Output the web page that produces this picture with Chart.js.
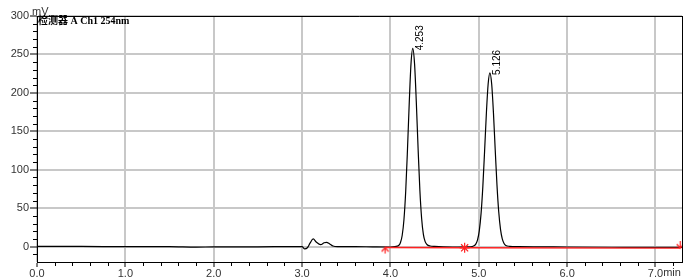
<!DOCTYPE html>
<html>
<head>
<meta charset="utf-8">
<script src="https://cdn.jsdelivr.net/npm/chart.js@4/dist/chart.umd.min.js"></script>
<style>
html,body{margin:0;padding:0;background:#fff;}
#wrap{width:683px;height:277px;position:relative;}
</style>
</head>
<body>
<div id="wrap"><canvas id="c" width="683" height="277"></canvas></div>
<script>
// ---- data ----
const times = [0.00,0.50,1.00,1.50,1.80,2.00,2.50,2.90,3.00,3.03,3.06,3.09,3.126,3.16,3.21,3.25,3.277,3.31,3.35,3.40,3.60,3.80,4.00,
  4.053,4.093,4.113,4.133,4.153,4.173,4.193,4.213,4.233,4.253,4.273,4.293,4.313,4.333,4.353,4.373,4.393,4.413,4.45,4.50,4.70,
  4.906,4.946,4.966,4.986,5.006,5.026,5.046,5.066,5.086,5.106,5.126,5.146,5.166,5.186,5.206,5.226,5.246,5.266,5.286,5.306,5.35,5.45,
  6.00,6.50,7.00,7.30];
const signal = [0.2,0.2,0.0,0.0,-0.7,-0.3,-0.2,0.0,0.0,-3.0,-1.5,4.5,10.0,6.0,2.6,5.0,5.6,3.8,0.8,0.0,0.0,-0.3,-0.5,
  0.1,1.5,5.1,14.5,35,72,126,187,238,258,238,188,128,74,37,16,6.5,2.8,0.8,0.2,-0.5,
  -0.3,1.1,3.3,8.8,20.9,43.2,78.4,124.8,173.6,211.5,226,211.5,174,126,80,45,22.5,10,4,1.5,0.4,0,
  -0.5,-0.8,-1.0,-1.0];
const baselineTimes = [3.94, 4.84, 7.28];
const baselineValues = [-1.2, -1.5, -2.0];
const peakTimes = [4.253, 5.126];
const peakHeights = [258, 226];
const peakLabels = ['4.253', '5.126'];
const xTicks = [0,1,2,3,4,5,6,7];
const yTicks = [0,50,100,150,200,250,300];
const title = '检测器 A Ch1 254nm';

// marker images for baseline start/end
function arrowCanvas(up){
  const c = document.createElement('canvas'); c.width = 9; c.height = 14;
  const g = c.getContext('2d'); g.strokeStyle = '#ff2020'; g.lineWidth = 1.2;
  g.beginPath();
  if (up){ g.moveTo(4.5,7); g.lineTo(4.5,13); g.moveTo(1,11); g.lineTo(4.5,7); g.lineTo(8,11); }
  else { g.moveTo(4.5,0); g.lineTo(4.5,7); g.moveTo(1,3); g.lineTo(4.5,7); g.lineTo(8,3); }
  g.stroke(); return c;
}
const markerStyles = [arrowCanvas(true), 'star', arrowCanvas(false)];

const decor = {
  id: 'decor',
  afterDraw(chart){
    const ctx = chart.ctx, a = chart.chartArea, xs = chart.scales.x, ys = chart.scales.y;
    ctx.save();
    // top & right frame
    ctx.strokeStyle = '#000'; ctx.lineWidth = 1;
    ctx.beginPath();
    ctx.moveTo(a.left, a.top + 0.5); ctx.lineTo(a.right + 0.5, a.top + 0.5);
    ctx.moveTo(a.right + 0.5, a.top); ctx.lineTo(a.right + 0.5, a.bottom);
    ctx.stroke();
    // minor ticks
    ctx.beginPath();
    for (let v = -10; v < 300; v += 10){
      if (v % 50 === 0) continue;
      const y = Math.round(ys.getPixelForValue(v)) + 0.5;
      ctx.moveTo(a.left - 4, y); ctx.lineTo(a.left, y);
    }
    for (let i = 1; i < 37; i++){
      if (i % 5 === 0) continue;
      const x = Math.round(xs.getPixelForValue(i * 0.2)) + 0.5;
      ctx.moveTo(x, a.bottom); ctx.lineTo(x, a.bottom + 4);
    }
    ctx.stroke();
    // units
    ctx.fillStyle = '#333';
    ctx.font = '11px "Liberation Sans", Arial, sans-serif';
    ctx.textAlign = 'left'; ctx.textBaseline = 'alphabetic';
    ctx.fillText('mV', 32, 15);
    const x7 = xs.getPixelForValue(7);
    const w7 = ctx.measureText('7.0').width;
    ctx.textBaseline = 'middle';
    ctx.fillText('min', x7 + w7 / 2, 273);
    // title
    ctx.fillStyle = '#000';
    ctx.font = 'bold 10px "Liberation Serif", "Noto Sans CJK SC", serif';
    ctx.fillText(title, a.left + 1, a.top + 5);
    // peak labels
    ctx.font = '10px "Liberation Sans", Arial, sans-serif';
    ctx.fillStyle = '#000';
    for (let i = 0; i < peakTimes.length; i++){
      const px = xs.getPixelForValue(peakTimes[i]);
      const py = ys.getPixelForValue(peakHeights[i]);
      ctx.save();
      ctx.translate(px + 7, py + 2);
      ctx.rotate(-Math.PI / 2);
      ctx.textAlign = 'left'; ctx.textBaseline = 'middle';
      ctx.fillText(peakLabels[i], 0, 0);
      ctx.restore();
    }
    ctx.restore();
  }
};

const tickFont = { family: '"Liberation Sans", Arial, sans-serif', size: 11 };

new Chart(document.getElementById('c'), {
  type: 'line',
  data: {
    datasets: [
      {
        label: 'signal',
        data: times.map((t, i) => ({ x: t, y: signal[i] })),
        borderColor: '#000', borderWidth: 1.2, pointRadius: 0, fill: false,
        cubicInterpolationMode: 'monotone', order: 1
      },
      {
        label: 'baseline',
        data: baselineTimes.map((t, i) => ({ x: t, y: baselineValues[i] })),
        borderColor: '#ff2020', borderWidth: 1.4, fill: false,
        pointStyle: markerStyles, pointRadius: 5, pointBorderColor: '#ff2020',
        pointBorderWidth: 1.2, pointBackgroundColor: '#ff2020', order: 0
      }
    ]
  },
  options: {
    responsive: false, animation: false, events: [],
    layout: { autoPadding: false, padding: { left: 0, right: 1, top: 16, bottom: 0 } },
    plugins: { legend: { display: false }, tooltip: { enabled: false }, title: { display: false } },
    scales: {
      x: {
        type: 'linear', min: 0, max: 7.3,
        afterBuildTicks(s){ s.ticks = xTicks.map(v => ({ value: v })); },
        afterFit(s){ s.height = 15; s.paddingLeft = 0; s.paddingRight = 0; },
        ticks: { callback: v => v.toFixed(1), color: '#333', font: tickFont, padding: 0, maxRotation: 0, autoSkip: false },
        grid: { color: '#c8c8c8', lineWidth: 2, drawTicks: true, tickLength: 5, tickColor: '#000', tickWidth: 1 },
        border: { display: true, color: '#000', width: 1 }
      },
      y: {
        type: 'linear', min: -20, max: 300,
        afterBuildTicks(s){ s.ticks = yTicks.map(v => ({ value: v })); },
        afterFit(s){ s.width = 37; s.paddingTop = 0; s.paddingBottom = 0; },
        ticks: { color: '#333', font: tickFont, padding: 1 },
        grid: { color: '#c8c8c8', lineWidth: 2, drawTicks: true, tickLength: 7, tickColor: '#000', tickWidth: 1 },
        border: { display: true, color: '#000', width: 1 }
      }
    }
  },
  plugins: [decor]
});
</script>
</body>
</html>
